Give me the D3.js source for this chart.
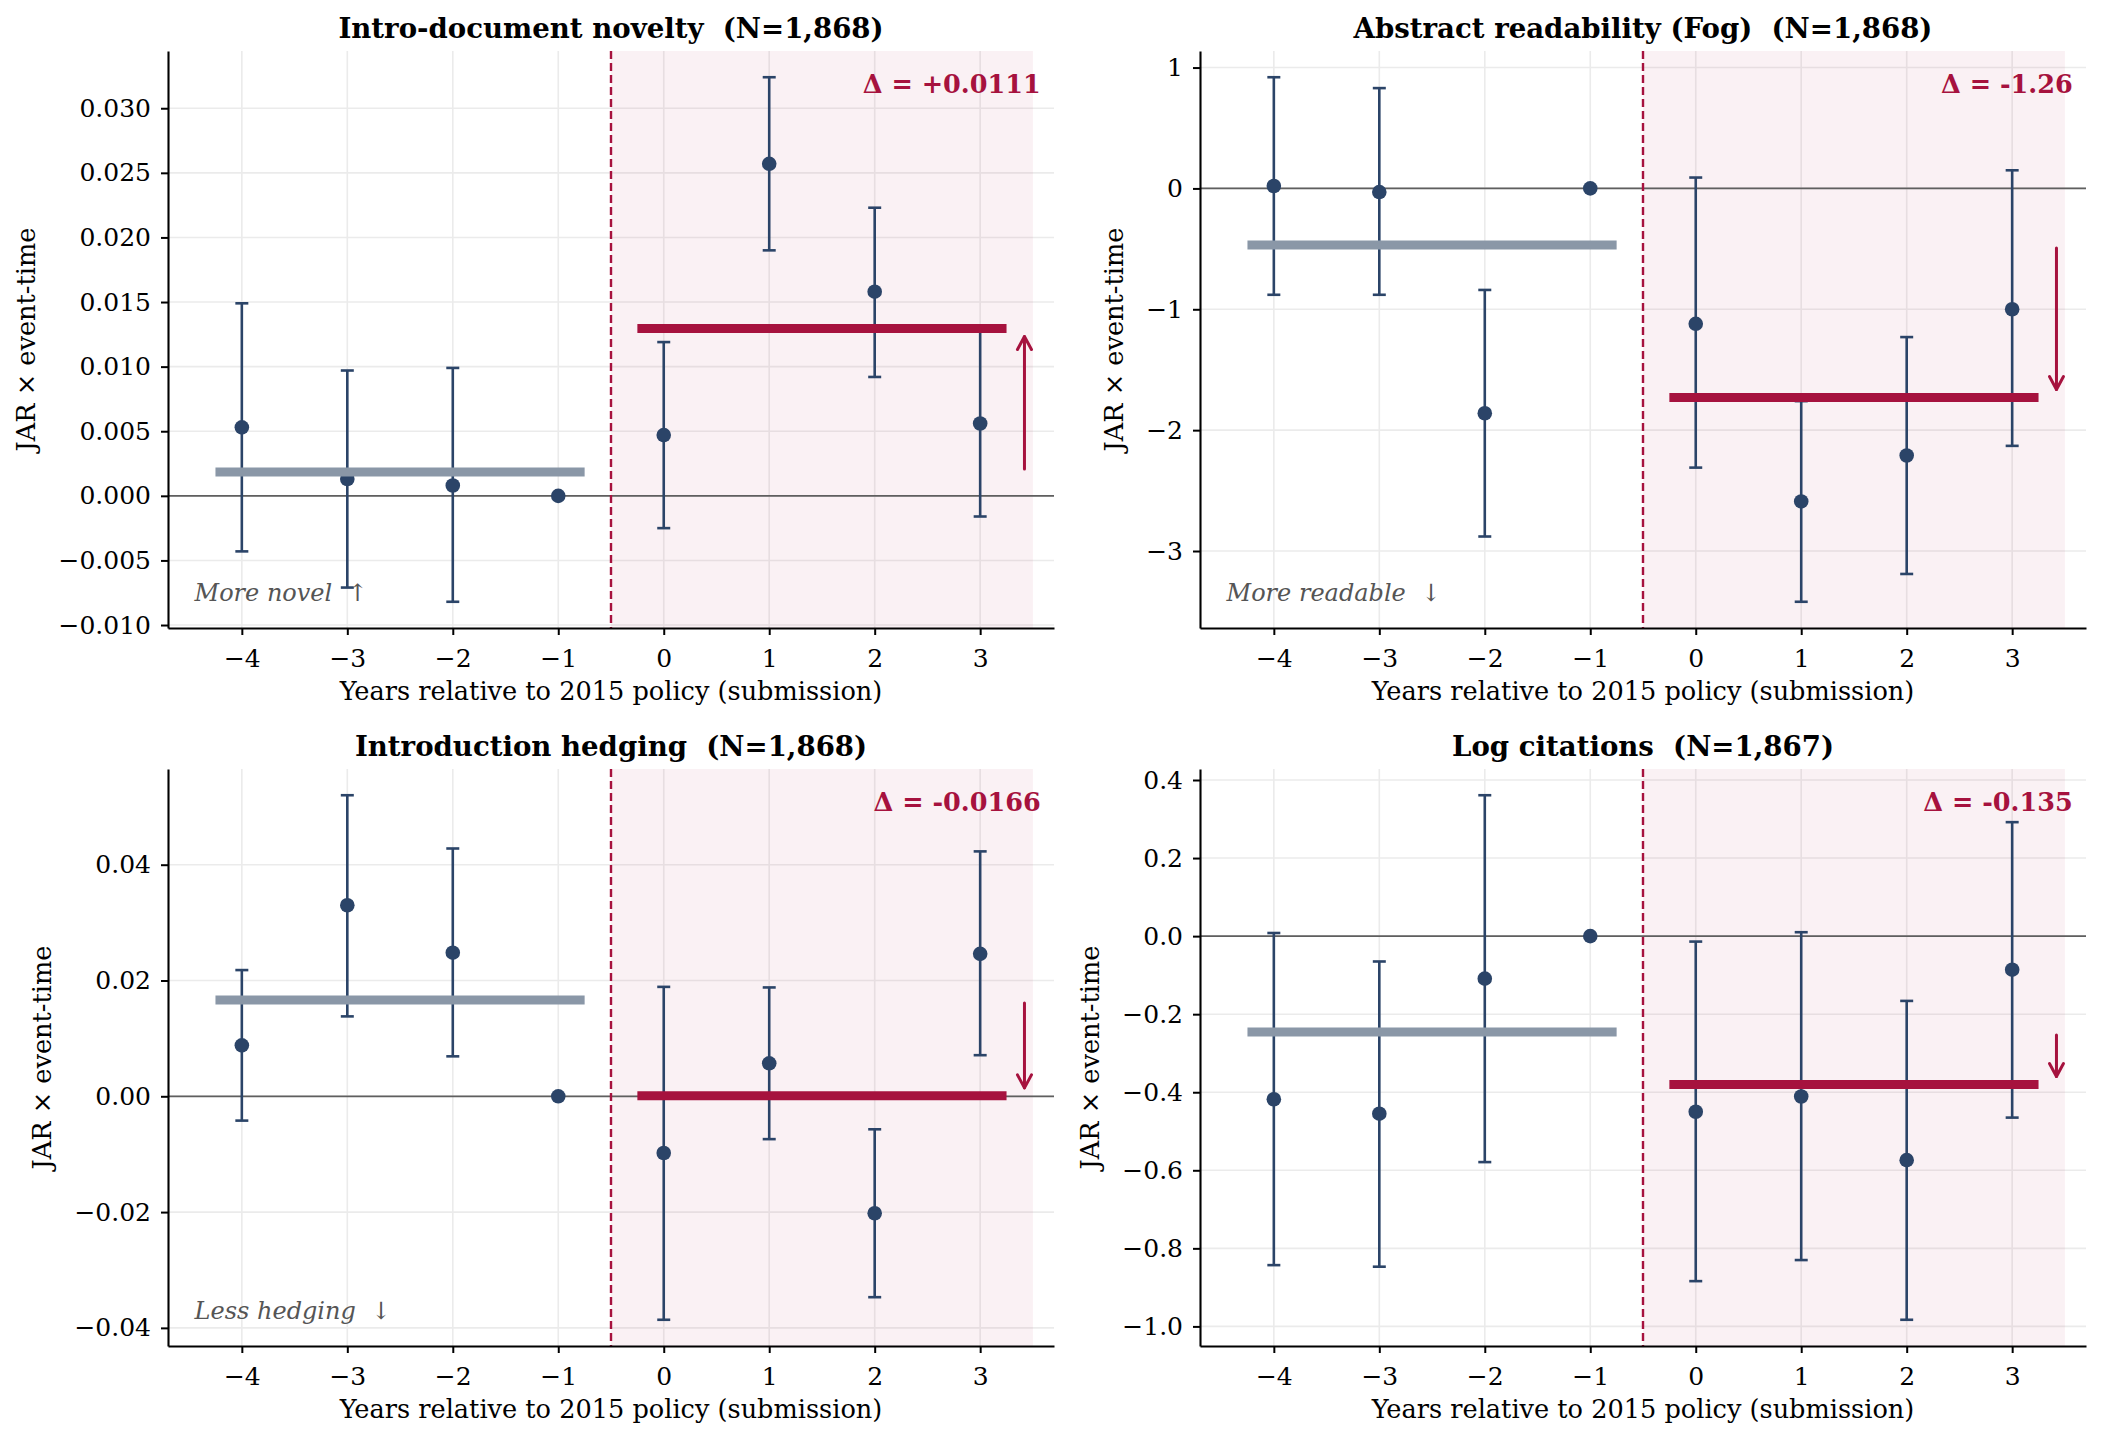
<!DOCTYPE html>
<html>
<head>
<meta charset="utf-8">
<script src="https://cdn.jsdelivr.net/npm/d3@7"></script>
<style>
  body { margin: 0; background: #fff; }
  text { font-family: "DejaVu Serif", serif; }
</style>
</head>
<body>
<div id="chart"></div>
<script>
const width = 2102, height = 1439;

// event time (years relative to 2015 policy)
const eventTimes = [-4, -3, -2, -1, 0, 1, 2, 3];

// Intro-document novelty
const noveltyEst = [0.0053, 0.0013, 0.0008, 0, 0.0047, 0.0257, 0.0158, 0.0056];
const noveltyLo  = [-0.0043, -0.0071, -0.0082, null, -0.0025, 0.0190, 0.0092, -0.0016];
const noveltyHi  = [0.0149, 0.0097, 0.0099, null, 0.0119, 0.0324, 0.0223, 0.0128];

// Abstract readability (Fog)
const fogEst = [0.02, -0.03, -1.86, 0, -1.12, -2.59, -2.21, -1.00];
const fogLo  = [-0.88, -0.88, -2.88, null, -2.31, -3.42, -3.19, -2.13];
const fogHi  = [0.92, 0.83, -0.84, null, 0.09, -1.76, -1.23, 0.15];

// Introduction hedging
const hedgeEst = [0.0088, 0.0330, 0.0248, 0, -0.0098, 0.0057, -0.0202, 0.0246];
const hedgeLo  = [-0.0042, 0.0138, 0.0069, null, -0.0386, -0.0074, -0.0347, 0.0071];
const hedgeHi  = [0.0218, 0.0520, 0.0428, null, 0.0189, 0.0188, -0.0057, 0.0423];

// Log citations
const citeEst = [-0.418, -0.455, -0.109, 0, -0.450, -0.411, -0.574, -0.086];
const citeLo  = [-0.843, -0.847, -0.579, null, -0.884, -0.830, -0.983, -0.465];
const citeHi  = [0.008, -0.065, 0.361, null, -0.014, 0.010, -0.166, 0.292];

const titles = [
  "Intro-document novelty  (N=1,868)",
  "Abstract readability (Fog)  (N=1,868)",
  "Introduction hedging  (N=1,868)",
  "Log citations  (N=1,867)"
];
const deltaLabels = ["\u0394 = +0.0111", "\u0394 = -1.26", "\u0394 = -0.0166", "\u0394 = -0.135"];
const notes = ["More novel  \u2191", "More readable  \u2193", "Less hedging  \u2193", null];

const noveltyTicks = [-0.010, -0.005, 0.000, 0.005, 0.010, 0.015, 0.020, 0.025, 0.030];
const fogTicks = [-3, -2, -1, 0, 1];
const hedgeTicks = [-0.04, -0.02, 0.00, 0.02, 0.04];
const citeTicks = [-1.0, -0.8, -0.6, -0.4, -0.2, 0.0, 0.2, 0.4];

const panels = [
  { est: noveltyEst, lo: noveltyLo, hi: noveltyHi, ticks: noveltyTicks, fmt: ".3f" },
  { est: fogEst, lo: fogLo, hi: fogHi, ticks: fogTicks, fmt: "d" },
  { est: hedgeEst, lo: hedgeLo, hi: hedgeHi, ticks: hedgeTicks, fmt: ".2f" },
  { est: citeEst, lo: citeLo, hi: citeHi, ticks: citeTicks, fmt: ".1f" }
];

const navy = "#2b4468", crimson = "#a6123e", preGray = "#8a97a7";
const cols = [168, 1200], rows = [51, 769];
const pw = 886, ph = 577;

const svg = d3.select("#chart").append("svg")
  .attr("width", width)
  .attr("height", height);

panels.forEach((p, i) => {
  const left = cols[i % 2], top = rows[Math.floor(i / 2)];
  drawPanel(p, i, left, top);
});

function drawPanel(p, i, left, top) {
  const g = svg.append("g").attr("transform", `translate(${left},${top})`);

  const x = d3.scaleLinear().domain([-4.7, 3.7]).range([0, pw]);

  const vals = p.est.concat(p.lo, p.hi).filter(v => v != null);
  const [mn, mx] = d3.extent(vals);
  const padY = (mx - mn) * 0.05;
  const y = d3.scaleLinear().domain([mn - padY, mx + padY]).range([ph, 0]);

  // grid
  g.append("g").selectAll("line").data(eventTimes).join("line")
    .attr("x1", d => x(d)).attr("x2", d => x(d))
    .attr("y1", 0).attr("y2", ph)
    .style("stroke", "#ebebeb").style("stroke-width", 1.6);
  g.append("g").selectAll("line").data(p.ticks).join("line")
    .attr("x1", 0).attr("x2", pw)
    .attr("y1", d => y(d)).attr("y2", d => y(d))
    .style("stroke", "#ebebeb").style("stroke-width", 1.6);

  // post-policy shading
  g.append("rect")
    .attr("x", x(-0.5)).attr("y", 0)
    .attr("width", x(3.5) - x(-0.5)).attr("height", ph)
    .style("fill", crimson).style("fill-opacity", 0.06);

  // zero line
  g.append("line")
    .attr("x1", 0).attr("x2", pw)
    .attr("y1", y(0)).attr("y2", y(0))
    .style("stroke", "#5f5f5f").style("stroke-width", 1.7);

  // policy line
  g.append("line")
    .attr("x1", x(-0.5)).attr("x2", x(-0.5))
    .attr("y1", 0).attr("y2", ph)
    .style("stroke", crimson).style("stroke-width", 2.4)
    .style("stroke-dasharray", "8,4");

  const rowsData = eventTimes.map((t, k) => ({ t, est: p.est[k], lo: p.lo[k], hi: p.hi[k] }));
  const withCi = rowsData.filter(d => d.lo != null);

  // error bars
  const eb = g.append("g").style("stroke", navy).style("stroke-width", 2.6);
  eb.selectAll(".bar").data(withCi).join("line")
    .attr("x1", d => x(d.t)).attr("x2", d => x(d.t))
    .attr("y1", d => y(d.lo)).attr("y2", d => y(d.hi));
  eb.selectAll(".capLo").data(withCi).join("line")
    .attr("x1", d => x(d.t) - 6.5).attr("x2", d => x(d.t) + 6.5)
    .attr("y1", d => y(d.lo)).attr("y2", d => y(d.lo));
  eb.selectAll(".capHi").data(withCi).join("line")
    .attr("x1", d => x(d.t) - 6.5).attr("x2", d => x(d.t) + 6.5)
    .attr("y1", d => y(d.hi)).attr("y2", d => y(d.hi));

  g.append("g").selectAll("circle").data(rowsData).join("circle")
    .attr("cx", d => x(d.t)).attr("cy", d => y(d.est))
    .attr("r", 7.3)
    .style("fill", navy);

  // pre / post means
  const preMean = d3.mean(rowsData.filter(d => d.t < 0), d => d.est);
  const postMean = d3.mean(rowsData.filter(d => d.t >= 0), d => d.est);

  g.append("line")
    .attr("x1", x(-4.25)).attr("x2", x(-0.75))
    .attr("y1", y(preMean)).attr("y2", y(preMean))
    .style("stroke", preGray).style("stroke-width", 9);
  g.append("line")
    .attr("x1", x(-0.25)).attr("x2", x(3.25))
    .attr("y1", y(postMean)).attr("y2", y(postMean))
    .style("stroke", crimson).style("stroke-width", 9);

  // arrow from pre mean to post mean
  const ax = x(3.42);
  const dir = postMean > preMean ? -1 : 1;
  const y0 = y(preMean) + dir * 3;
  const y1 = y(postMean) - dir * 8;
  const arrow = g.append("g").style("stroke", crimson).style("stroke-width", 3)
    .style("fill", "none").style("stroke-linecap", "round").style("stroke-linejoin", "round");
  arrow.append("line").attr("x1", ax).attr("x2", ax).attr("y1", y0).attr("y2", y1);
  arrow.append("polyline")
    .attr("points", `${ax - 7},${y1 - dir * 13} ${ax},${y1} ${ax + 7},${y1 - dir * 13}`);

  // axes
  const xAxis = g.append("g")
    .attr("transform", `translate(0,${ph})`)
    .call(d3.axisBottom(x).tickValues(eventTimes).tickFormat(d3.format("d"))
      .tickSize(7).tickSizeOuter(0).tickPadding(14));
  const yAxis = g.append("g")
    .call(d3.axisLeft(y).tickValues(p.ticks).tickFormat(d3.format(p.fmt))
      .tickSize(7).tickSizeOuter(0).tickPadding(10));

  [xAxis, yAxis].forEach(a => {
    a.attr("font-family", "DejaVu Serif").attr("font-size", 25);
    a.select(".domain").style("stroke", "#000").style("stroke-width", 2.1);
    a.selectAll(".tick line").style("stroke", "#000").style("stroke-width", 2);
    a.selectAll(".tick text").style("fill", "#000");
  });

  // labels
  g.append("text")
    .attr("x", pw / 2).attr("y", ph + 72)
    .attr("text-anchor", "middle")
    .style("font-size", "25.6px").style("fill", "#000")
    .text("Years relative to 2015 policy (submission)");

  let maxW = 0;
  yAxis.selectAll(".tick text").each(function () {
    maxW = Math.max(maxW, this.getComputedTextLength());
  });
  const ylx = -17 - maxW - 23;
  g.append("text")
    .attr("transform", `translate(${ylx},${ph / 2}) rotate(-90)`)
    .attr("text-anchor", "middle")
    .style("font-size", "25.6px").style("fill", "#000")
    .text("JAR \u00d7 event-time");

  g.append("text")
    .attr("x", pw / 2).attr("y", -13.5)
    .attr("text-anchor", "middle")
    .style("font-size", "27.6px").style("font-weight", "bold")
    .style("white-space", "pre").style("fill", "#000")
    .text(titles[i]);

  g.append("text")
    .attr("x", pw * 0.985).attr("y", 42)
    .attr("text-anchor", "end")
    .style("font-size", "25.5px").style("font-weight", "bold")
    .style("fill", crimson)
    .text(deltaLabels[i]);

  if (notes[i]) {
    g.append("text")
      .attr("x", pw * 0.03).attr("y", ph - 27)
      .style("font-size", "24px").style("font-style", "italic")
      .style("white-space", "pre").style("fill", "#555")
      .text(notes[i]);
  }
}
</script>
</body>
</html>
